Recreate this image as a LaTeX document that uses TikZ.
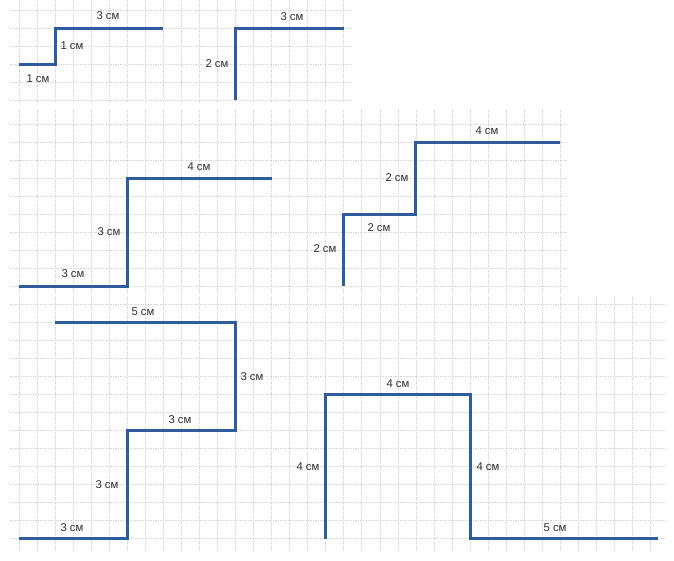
\documentclass[tikz,border=0pt]{standalone}
\usepackage{fontspec}
\setmainfont{Liberation Sans}
\begin{document}
\begin{tikzpicture}[x=1pt,y=-1pt,
  gridline/.style={draw=black!16, line width=0.55pt, dash pattern=on 1.5pt off 1pt},
  stair/.style={draw={rgb,255:red,46;green,92;blue,158}, line width=3pt, line cap=butt, line join=miter},
  lbl/.style={inner sep=0pt, font=\fontsize{11.3}{13}\selectfont, text=black!82}]
\useasboundingbox (0,0) rectangle (674,560);
% ---- grids ----
% top panel
\foreach \k in {0,...,18} \draw[gridline] ({19+18.04*\k},0) -- ({19+18.04*\k},102);
\foreach \j in {0,...,5} \draw[gridline] (10,{10+18.04*\j}) -- (352,{10+18.04*\j});
% middle panel
\foreach \k in {0,...,30} \draw[gridline] ({19+18.04*\k},110) -- ({19+18.04*\k},293);
\foreach \j in {0,...,9} \draw[gridline] (10,{124+18.04*\j}) -- (567,{124+18.04*\j});
% bottom panel
\foreach \k in {0,...,35} \draw[gridline] ({19+18.04*\k},297) -- ({19+18.04*\k},552);
\foreach \j in {0,...,13} \draw[gridline] (10,{304+18.04*\j}) -- (666,{304+18.04*\j});
% ---- top panel shapes ----
\draw[stair] (19,64.1) -- (55.1,64.1) -- (55.1,28) -- (163.3,28);
\node[lbl] (a1) at (108,16) {3 см};
\node[lbl] (a2) at (72,46) {1 см};
\node[lbl] (a3) at (38,79) {1 см};
\draw[stair] (235.5,100.2) -- (235.5,28) -- (343.8,28);
\node[lbl] (b1) at (292,17) {3 см};
\node[lbl] (b2) at (217,64) {2 см};
% ---- middle panel shapes ----
\draw[stair] (19,286.4) -- (127.2,286.4) -- (127.2,178.1) -- (271.6,178.1);
\node[lbl] (c1) at (199,167) {4 см};
\node[lbl] (c2) at (109,232) {3 см};
\node[lbl] (c3) at (73,274) {3 см};
\draw[stair] (343.7,286.4) -- (343.7,214.2) -- (415.9,214.2) -- (415.9,142) -- (560.2,142);
\node[lbl] (d1) at (487,131) {4 см};
\node[lbl] (d2) at (397,178) {2 см};
\node[lbl] (d3) at (379,228) {2 см};
\node[lbl] (d4) at (325,249) {2 см};
% ---- bottom panel shapes ----
\draw[stair] (55.1,322) -- (235.5,322) -- (235.5,430.2) -- (127.2,430.2) -- (127.2,538.5) -- (19,538.5);
\node[lbl] (e1) at (143,312) {5 см};
\node[lbl] (e2) at (252,377) {3 см};
\node[lbl] (e3) at (180,420) {3 см};
\node[lbl] (e4) at (107,485) {3 см};
\node[lbl] (e5) at (72,528) {3 см};
\draw[stair] (325.7,538.5) -- (325.7,394.2) -- (470,394.2) -- (470,538.5) -- (658,538.5);
\node[lbl] (f1) at (398,384) {4 см};
\node[lbl] (f2) at (308,467) {4 см};
\node[lbl] (f3) at (488,467) {4 см};
\node[lbl] (f4) at (555,528) {5 см};
\end{tikzpicture}
\end{document}
